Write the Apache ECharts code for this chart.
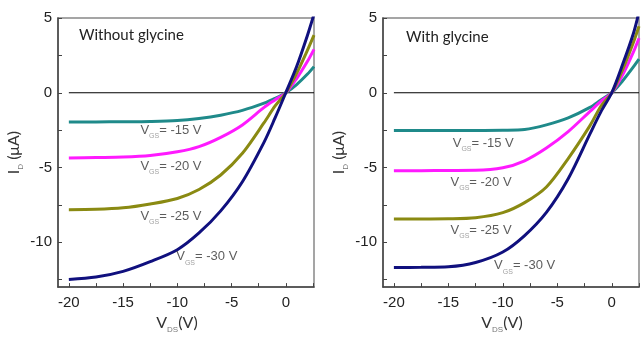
<!DOCTYPE html>
<html>
<head>
<meta charset="utf-8">
<script src="https://cdn.jsdelivr.net/npm/echarts@6/dist/echarts.min.js"></script>
<style>
html,body{margin:0;padding:0;background:#fff;}
#chart{width:644px;height:339px;}
</style>
</head>
<body>
<div id="chart"></div>
<script>
/***** data *****/
var vdsLeft  = [-20, -17.5, -15, -12.5, -10, -8, -6, -4, -2, -1, 0, 1, 2, 2.6];
var vdsRight = [-20, -17.5, -15, -12.5, -10, -8, -6, -4, -2, -1, 0, 1, 2, 2.5];

// without glycine
var noG15 = [-1.96, -1.95, -1.94, -1.92, -1.86, -1.72, -1.5, -1.18, -0.7, -0.38, 0, 0.55, 1.25, 1.75];
var noG20 = [-4.36, -4.33, -4.3, -4.2, -3.95, -3.6, -2.98, -2.15, -0.98, -0.48, 0, 0.95, 2.1, 2.9];
var noG25 = [-7.82, -7.8, -7.7, -7.44, -7.07, -6.47, -5.5, -4.05, -2.0, -0.9, 0, 1.3, 2.85, 3.85];
var noG30 = [-12.49, -12.33, -11.95, -11.3, -10.5, -9.38, -7.9, -5.95, -3.3, -1.7, 0, 1.75, 3.85, 5.25];

// with glycine
var gly15 = [-2.53, -2.53, -2.53, -2.52, -2.51, -2.46, -2.15, -1.68, -0.98, -0.48, 0, 0.8, 1.75, 2.25];
var gly20 = [-5.22, -5.21, -5.2, -5.19, -5.02, -4.55, -3.7, -2.6, -1.25, -0.58, 0, 1.2, 2.75, 3.65];
var gly25 = [-8.44, -8.44, -8.43, -8.36, -8.02, -7.35, -6.3, -4.4, -2.2, -0.9, 0, 1.55, 3.4, 4.45];
var gly30 = [-11.69, -11.68, -11.64, -11.35, -10.65, -9.55, -8.0, -5.75, -2.75, -1.28, 0, 1.9, 4.0, 5.4];

var gateLabels = ['-15', '-20', '-25', '-30'];
// label anchors [vds, id] for each gate voltage
var noGLabelPos  = [[-13.4, -2.6], [-13.4, -5.0], [-13.4, -8.35], [-10.1, -11.08]];
var glyLabelPos  = [[-14.6, -3.48], [-14.8, -6.08], [-14.8, -9.28], [-10.8, -11.68]];

var xTickLabels = [-20, -15, -10, -5, 0];
var xTicks = [-20, -17.5, -15, -12.5, -10, -7.5, -5, -2.5, 0, 2.5];
var yTickLabels = [-10, -5, 0, 5];
var yTicks = [-12.5, -10, -7.5, -5, -2.5, 0, 2.5, 5];

var colors = ['#1f8a8a', '#ff1aff', '#8a8a12', '#10107e'];

/***** helpers *****/
function pairs(xs, ys) {
	var out = [];
	for (var i = 0; i < xs.length; i++) out.push([xs[i], ys[i]]);
	return out;
}

function curve(idx, xs, ys, color) {
	return {
		type: 'line', xAxisIndex: idx, yAxisIndex: idx,
		data: pairs(xs, ys), smooth: 0.3, symbol: 'none',
		lineStyle: {color: color, width: 3}, z: 3, silent: true
	};
}

function xAxisCfg(idx, max) {
	return {
		gridIndex: idx, type: 'value', min: -21, max: max,
		name: '{m|V}{s|DS}{m|(V)}', nameLocation: 'middle', nameGap: 25,
		nameTextStyle: {
			padding: [0, 18, 0, 0],
			rich: {
				m: {fontFamily: 'Lato', fontSize: 16, color: '#333', verticalAlign: 'top', lineHeight: 18},
				s: {fontFamily: 'Liberation Sans', fontSize: 8, color: '#777', verticalAlign: 'bottom', lineHeight: 19}
			}
		},
		axisLine: {onZero: false, lineStyle: {color: '#444', width: 1.5}},
		axisTick: {inside: true, length: 4, customValues: xTicks, lineStyle: {color: '#444'}},
		axisLabel: {customValues: xTickLabels, margin: 8, fontFamily: 'Liberation Sans', fontSize: 15, color: '#222'},
		splitLine: {show: false}
	};
}

function yAxisCfg(idx) {
	return {
		gridIndex: idx, type: 'value', min: -13, max: 5,
		name: '{m|I}{s|D}{m| (\u03bcA)}', nameLocation: 'middle', nameGap: 33, nameRotate: 90,
		nameTextStyle: {
			rich: {
				m: {fontFamily: 'Lato', fontSize: 16, color: '#333', verticalAlign: 'top', lineHeight: 18},
				s: {fontFamily: 'Liberation Sans', fontSize: 8, color: '#777', verticalAlign: 'bottom', lineHeight: 19}
			}
		},
		axisLine: {onZero: false, lineStyle: {color: '#444', width: 1.5}},
		axisTick: {inside: true, length: 4, customValues: yTicks, lineStyle: {color: '#444'}},
		axisLabel: {customValues: yTickLabels, margin: 6, fontFamily: 'Liberation Sans', fontSize: 15, color: '#222'},
		splitLine: {show: false}
	};
}

function gateSeries(idx, pos) {
	var data = [];
	for (var i = 0; i < pos.length; i++) {
		data.push({value: pos[i], label: {formatter: '{v|V}{s|GS}{t|= ' + gateLabels[i] + ' V}'}});
	}
	return {
		type: 'scatter', xAxisIndex: idx, yAxisIndex: idx, symbolSize: 0, silent: true, z: 5,
		data: data,
		label: {
			show: true, position: 'right', distance: 0,
			rich: {
				v: {fontFamily: 'Liberation Sans', fontSize: 13, color: '#333', verticalAlign: 'top', lineHeight: 15},
				s: {fontFamily: 'Liberation Sans', fontSize: 7, color: '#888', verticalAlign: 'bottom', lineHeight: 16},
				t: {fontFamily: 'Liberation Sans', fontSize: 13, color: '#333', verticalAlign: 'top', lineHeight: 15}
			}
		}
	};
}

function zeroLine(idx, max) {
	return {
		type: 'line', xAxisIndex: idx, yAxisIndex: idx, symbol: 'none', silent: true, z: 2,
		data: [[-20, 0], [max, 0]], lineStyle: {color: '#000', width: 1}
	};
}

/***** chart *****/
var chart = echarts.init(document.getElementById('chart'));
var option = {
	animation: false,
	backgroundColor: '#fff',
	title: [
		{text: 'Without glycine', left: 79, top: 28, padding: 0,
		 textStyle: {fontFamily: 'Lato', fontSize: 15, fontWeight: 'normal', color: '#222'}},
		{text: 'With glycine', left: 406, top: 30, padding: 0,
		 textStyle: {fontFamily: 'Lato', fontSize: 15, fontWeight: 'normal', color: '#222'}}
	],
	grid: [
		{left: 58, top: 18, width: 256, height: 270, show: true, borderColor: '#888', borderWidth: 1.5},
		{left: 383, top: 18, width: 256, height: 270, show: true, borderColor: '#888', borderWidth: 1.5}
	],
	xAxis: [xAxisCfg(0, 2.6), xAxisCfg(1, 2.5)],
	yAxis: [yAxisCfg(0), yAxisCfg(1)],
	series: [
		zeroLine(0, 2.6),
		curve(0, vdsLeft, noG15, colors[0]),
		curve(0, vdsLeft, noG20, colors[1]),
		curve(0, vdsLeft, noG25, colors[2]),
		curve(0, vdsLeft, noG30, colors[3]),
		gateSeries(0, noGLabelPos),
		zeroLine(1, 2.5),
		curve(1, vdsRight, gly15, colors[0]),
		curve(1, vdsRight, gly20, colors[1]),
		curve(1, vdsRight, gly25, colors[2]),
		curve(1, vdsRight, gly30, colors[3]),
		gateSeries(1, glyLabelPos)
	]
};
chart.setOption(option);
</script>
</body>
</html>
